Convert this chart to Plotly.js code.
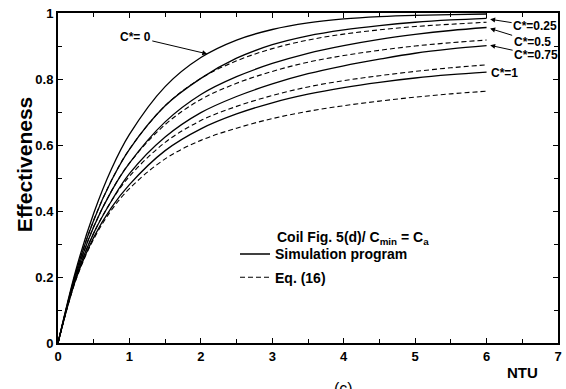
<!DOCTYPE html>
<html>
<head>
<meta charset="utf-8">
<script src="https://cdn.plot.ly/plotly-3.0.1.min.js"></script>
<style>
  html, body { margin: 0; padding: 0; background: #ffffff; }
  #chart { width: 566px; height: 389px; }
</style>
</head>
<body>
<div id="chart"></div>
<script>
// NTU sample points shared by every curve
const ntu = [0, 0.25, 0.5, 0.75, 1, 1.5, 2, 2.5, 3, 3.5, 4, 4.5, 5, 5.5, 6];

// Simulation program results (solid lines), one per capacity ratio C*
const simC0   = [0, 0.221, 0.393, 0.528, 0.632, 0.777, 0.865, 0.918, 0.950, 0.970, 0.982, 0.989, 0.993, 0.995, 0.997];
const simC025 = [0, 0.213, 0.372, 0.493, 0.587, 0.719, 0.802, 0.863, 0.904, 0.931, 0.949, 0.962, 0.972, 0.979, 0.984];
const simC05  = [0, 0.205, 0.352, 0.461, 0.545, 0.670, 0.753, 0.807, 0.847, 0.878, 0.901, 0.920, 0.935, 0.947, 0.956];
const simC075 = [0, 0.198, 0.333, 0.431, 0.513, 0.624, 0.698, 0.747, 0.785, 0.816, 0.840, 0.860, 0.878, 0.891, 0.901];
const simC1   = [0, 0.193, 0.320, 0.411, 0.480, 0.583, 0.649, 0.694, 0.728, 0.754, 0.774, 0.790, 0.803, 0.813, 0.821];

// Eq. (16) correlation (dashed lines)
const eqC025 = [0, 0.213, 0.372, 0.493, 0.587, 0.719, 0.802, 0.855, 0.892, 0.918, 0.936, 0.949, 0.959, 0.966, 0.972];
const eqC05  = [0, 0.205, 0.352, 0.461, 0.545, 0.662, 0.738, 0.787, 0.823, 0.851, 0.871, 0.887, 0.900, 0.910, 0.918];
const eqC075 = [0, 0.198, 0.333, 0.431, 0.505, 0.608, 0.674, 0.717, 0.750, 0.776, 0.795, 0.810, 0.823, 0.834, 0.843];
const eqC1   = [0, 0.191, 0.315, 0.403, 0.468, 0.558, 0.614, 0.651, 0.680, 0.702, 0.719, 0.733, 0.745, 0.755, 0.763];

const legendNames = ["Simulation program", "Eq. (16)"];
const curveLabels = ["C*= 0", "C*=0.25", "C*=0.5", "C*=0.75", "C*=1"];

const FONT = "Arial, 'Liberation Sans', sans-serif";
const solidSeries = [simC0, simC025, simC05, simC075, simC1];
const dashedSeries = [eqC025, eqC05, eqC075, eqC1];

const traces = [];
solidSeries.forEach((ys, i) => {
  traces.push({
    x: ntu, y: ys, type: "scatter", mode: "lines",
    line: { color: "#000", width: 1.3, shape: "spline", smoothing: 1 },
    name: legendNames[0], legendgroup: "sim", showlegend: i === 0,
    hoverinfo: "skip"
  });
});
dashedSeries.forEach((ys, i) => {
  traces.push({
    x: ntu, y: ys, type: "scatter", mode: "lines",
    line: { color: "#000", width: 1.1, dash: "5px,3px", shape: "spline", smoothing: 1 },
    name: legendNames[1], legendgroup: "eq", showlegend: i === 0,
    hoverinfo: "skip"
  });
});

const labelFont = { family: FONT, size: 12, color: "#000", weight: "bold" };
const arrowLabel = (txt, x, y, ax, ay) => ({
  x: x, y: y, xref: "x", yref: "y", text: txt, showarrow: true,
  ax: ax, ay: ay, arrowhead: 2, arrowsize: 1, arrowwidth: 1, arrowcolor: "#000",
  font: labelFont
});

const annotations = [
  arrowLabel(curveLabels[0], 2.09, 0.876, -72, -17),
  arrowLabel(curveLabels[1], 6.05, 0.981, 45, 7),
  arrowLabel(curveLabels[2], 6.05, 0.953, 42, 13),
  arrowLabel(curveLabels[3], 6.05, 0.902, 46, 10),
  { x: 6.03, y: 0.818, xref: "x", yref: "y", text: curveLabels[4], showarrow: false,
    xanchor: "left", yanchor: "middle", font: labelFont },
  { x: 0.434, y: 0.318, xref: "paper", yref: "paper", xanchor: "left", yanchor: "middle",
    text: "Coil Fig. 5(d)/ C<sub>min</sub> = C<sub>a</sub>", showarrow: false,
    font: { family: FONT, size: 14, color: "#000", weight: "bold" } },
  { x: 0.928, y: -0.088, xref: "paper", yref: "paper", xanchor: "center", yanchor: "middle",
    text: "NTU", showarrow: false,
    font: { family: FONT, size: 15, color: "#000", weight: "bold" } },
  // y-axis title, placed slightly above the plot's middle
  { x: -0.068, y: 0.539, xref: "paper", yref: "paper", xanchor: "center", yanchor: "middle",
    text: "Effectiveness", textangle: -90, showarrow: false,
    font: { family: FONT, size: 21, color: "#000", weight: "bold" } },
  { x: 0.57, y: -0.106, xref: "paper", yref: "paper", xanchor: "center", yanchor: "top",
    text: "(c)", showarrow: false,
    font: { family: FONT, size: 16, color: "#000" } }
];

const axisCommon = {
  showgrid: false, zeroline: false,
  showline: true, linecolor: "#000", linewidth: 2, mirror: "ticks",
  ticks: "inside", ticklen: 5, tickwidth: 1, tickcolor: "#000",
  tickfont: { family: FONT, size: 13, color: "#000", weight: "bold" }
};

const layout = {
  width: 566, height: 389,
  margin: { l: 58, r: 8, t: 13, b: 46 },
  paper_bgcolor: "#fff", plot_bgcolor: "#fff",
  showlegend: true,
  legend: {
    x: 0.354, y: 0.317, xanchor: "left", yanchor: "top",
    bgcolor: "rgba(0,0,0,0)", borderwidth: 0,
    font: { family: FONT, size: 14, color: "#000", weight: "bold" },
    itemwidth: 30, tracegroupgap: 2, traceorder: "grouped"
  },
  xaxis: Object.assign({}, axisCommon, {
    range: [0, 7], dtick: 1, tick0: 0,
    minor: { dtick: 0.5, ticks: "inside", ticklen: 4, tickcolor: "#000", showgrid: false }
  }),
  yaxis: Object.assign({}, axisCommon, {
    range: [0, 1], dtick: 0.2, tick0: 0,
    minor: { dtick: 0.1, ticks: "inside", ticklen: 4, tickcolor: "#000", showgrid: false }
  }),
  annotations: annotations
};

Plotly.newPlot("chart", traces, layout, { staticPlot: true, displayModeBar: false });
</script>
</body>
</html>
